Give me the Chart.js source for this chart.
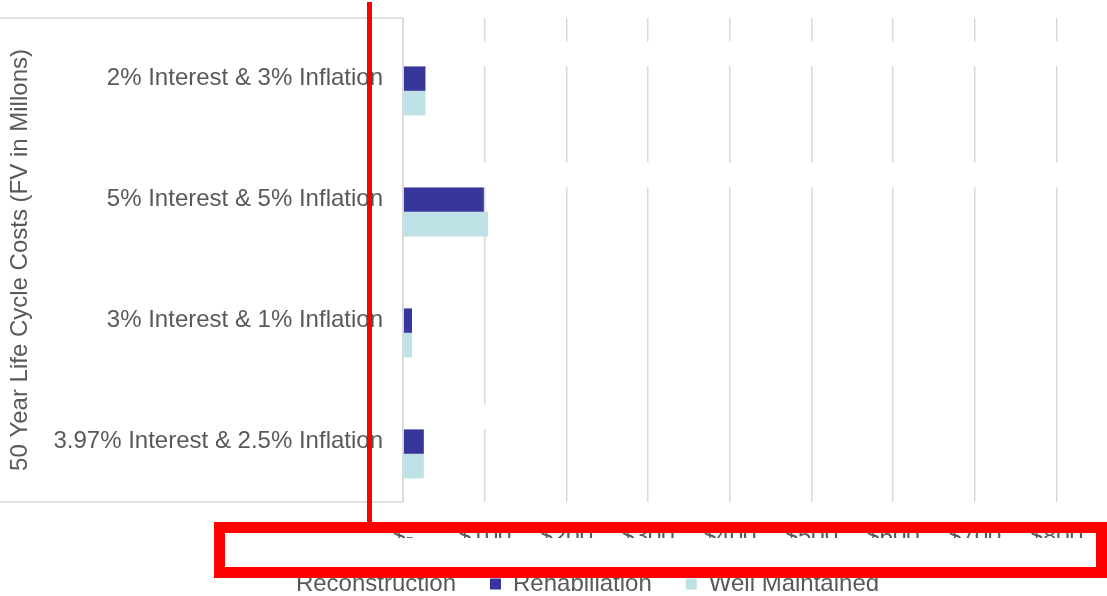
<!DOCTYPE html>
<html>
<head>
<meta charset="utf-8">
<script src="https://cdn.jsdelivr.net/npm/chart.js@4.4.1/dist/chart.umd.min.js"></script>
<style>
    html, body { margin: 0; padding: 0; background: #FFFFFF; overflow: hidden; }
    #wrap { position: relative; width: 1107px; height: 596px; overflow: hidden; }
    #costChart { position: absolute; left: 0; top: 0; }
    .mark-line { position: absolute; left: 367px; top: 2px; width: 5px; height: 521px; background: #FF0000; }
    .mark-box { position: absolute; left: 214px; top: 522px; width: 893px; height: 56px;
                border: 11px solid #FF0000; box-sizing: border-box; }
</style>
</head>
<body>
<div id="wrap">
    <canvas id="costChart" width="1152" height="606"></canvas>
    <div class="mark-line"></div>
    <div class="mark-box"></div>
</div>
<script>
// Scenario rows and 50 year FV costs ($ millions)
const scenarios = [
    '2% Interest & 3% Inflation',
    '5% Interest & 5% Inflation',
    '3% Interest & 1% Inflation',
    '3.97% Interest & 2.5% Inflation'
];
const reconstruction = [860, 890, 60, 150];
const rehabilitation = [27.5, 99, 11, 25.5];
const wellMaintained = [27.5, 104, 11, 25.5];
const xTicks = [0, 100, 200, 300, 400, 500, 600, 700, 800, 900];

const textGray = '#595959';
const gridGray = '#D9D9D9';
const fontFamily = "'Liberation Sans', Arial, sans-serif";
const fontSize = 24;

// left frame around the category labels, drawn over the bars
const frameLines = {
    id: 'frameLines',
    afterDatasetsDraw(chart) {
        const { ctx, chartArea } = chart;
        ctx.save();
        ctx.strokeStyle = gridGray;
        ctx.lineWidth = 1.5;
        ctx.beginPath();
        ctx.moveTo(0, chartArea.top);
        ctx.lineTo(chartArea.left, chartArea.top);
        ctx.lineTo(chartArea.left, chartArea.bottom);
        ctx.lineTo(0, chartArea.bottom);
        ctx.stroke();
        ctx.restore();
    }
};

new Chart(document.getElementById('costChart'), {
    type: 'bar',
    data: {
        labels: scenarios,
        datasets: [
            { label: 'Reconstruction', data: reconstruction, backgroundColor: '#FFFFFF', borderColor: '#FFFFFF', borderWidth: 0 },
            { label: 'Rehabiliation', data: rehabilitation, backgroundColor: '#37369A', borderColor: '#37369A', borderWidth: 0 },
            { label: 'Well Maintained', data: wellMaintained, backgroundColor: '#BDE1E4', borderColor: '#BDE1E4', borderWidth: 0 }
        ]
    },
    options: {
        indexAxis: 'y',
        responsive: false,
        animation: false,
        barPercentage: 1,
        categoryPercentage: 0.61,
        layout: { padding: { top: 18, left: 14, right: 14, bottom: 0 } },
        plugins: {
            legend: {
                position: 'bottom',
                labels: {
                    color: textGray,
                    boxWidth: 11,
                    boxHeight: 11,
                    padding: 34,
                    font: { family: fontFamily, size: fontSize }
                }
            },
            tooltip: { enabled: false }
        },
        scales: {
            x: {
                min: 0,
                max: 900,
                afterBuildTicks: scale => { scale.ticks = xTicks.map(v => ({ value: v })); },
                afterFit: scale => {
                    scale.height = 36;
                    scale.paddingLeft = 0;
                    scale.paddingRight = 0;
                },
                grid: { color: gridGray, lineWidth: 1.5, drawTicks: false },
                border: { display: false },
                ticks: {
                    color: textGray,
                    padding: 21,
                    maxRotation: 0,
                    autoSkip: false,
                    font: { family: fontFamily, size: fontSize },
                    callback: v => v === 0 ? '$-' : (v === 900 ? '' : '$' + v)
                }
            },
            y: {
                afterFit: scale => {
                    scale.width = 389;
                    scale.paddingTop = 0;
                    scale.paddingBottom = 0;
                },
                grid: { display: false, drawTicks: false },
                border: { display: false },
                ticks: {
                    color: textGray,
                    padding: 20,
                    font: { family: fontFamily, size: fontSize }
                },
                title: {
                    display: true,
                    text: '50 Year Life Cycle Costs (FV in Millons)',
                    color: textGray,
                    padding: { top: -8, bottom: 0 },
                    font: { family: fontFamily, size: fontSize }
                }
            }
        }
    },
    plugins: [frameLines]
});
</script>
</body>
</html>
